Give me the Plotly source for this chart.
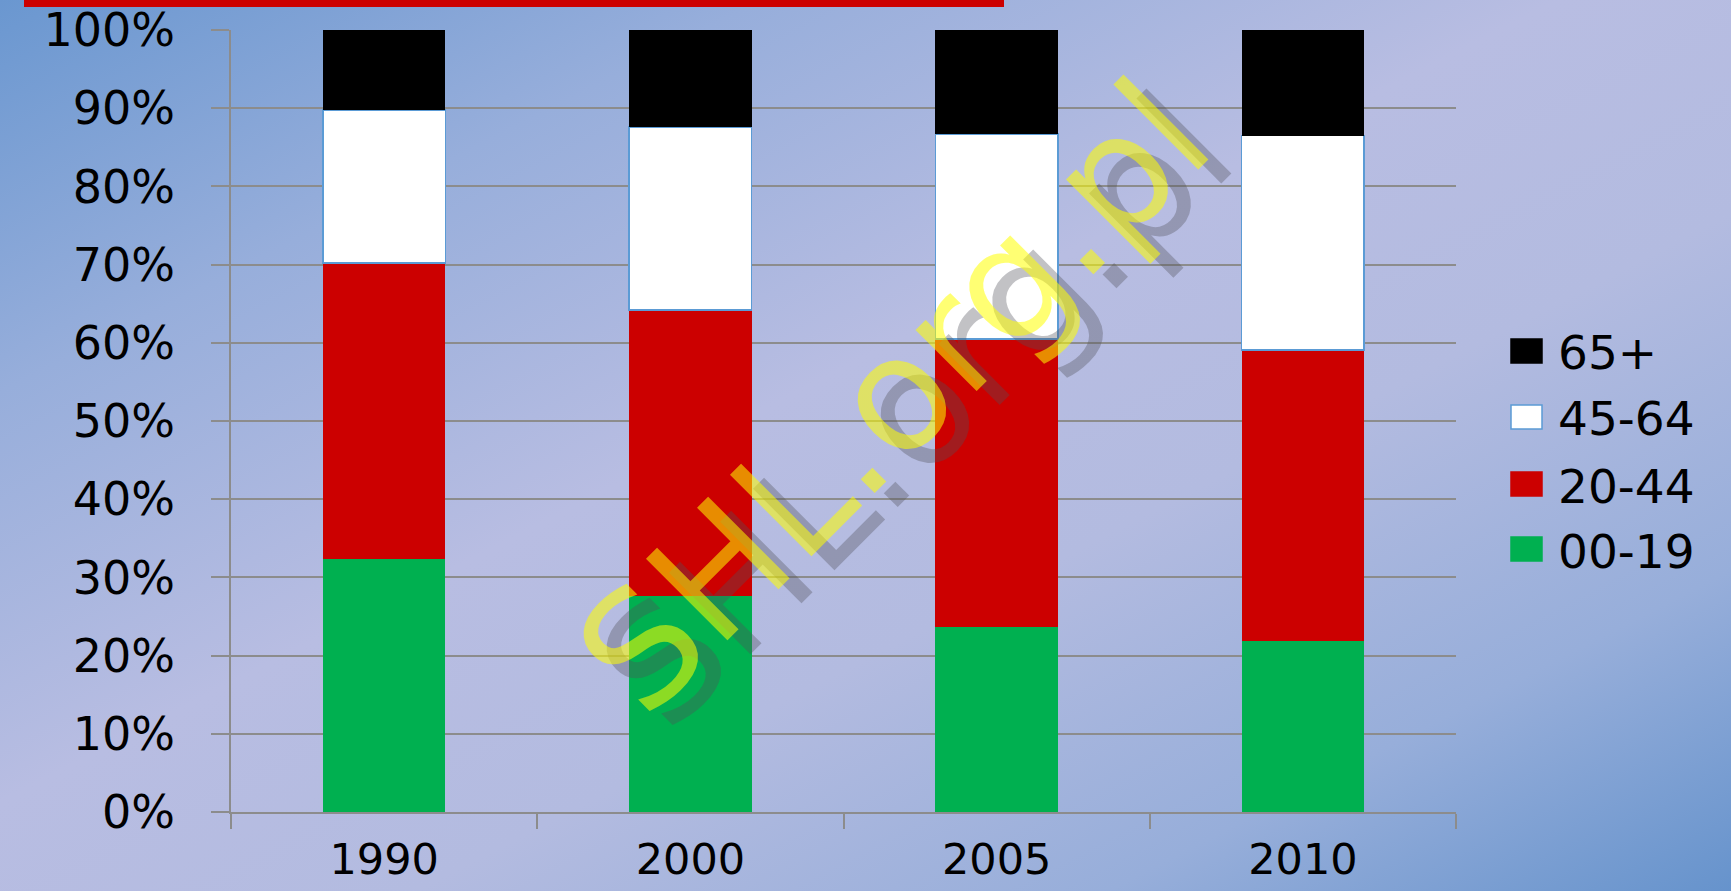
import base64
import plotly.graph_objects as go

# ---------------- data ----------------
years = ["1990", "2000", "2005", "2010"]
age_00_19 = [32.4, 27.6, 23.7, 21.9]
age_20_44 = [37.8, 36.6, 36.8, 37.2]
age_45_64 = [19.6, 23.4, 26.2, 27.4]
age_65_plus = [10.2, 12.4, 13.3, 13.5]
series_names = ["00-19", "20-44", "45-64", "65+"]
series_colors = ["#00B050", "#CC0000", "#FFFFFF", "#000000"]
y_tick_values = [0, 10, 20, 30, 40, 50, 60, 70, 80, 90, 100]
y_tick_labels = ["0%", "10%", "20%", "30%", "40%", "50%", "60%", "70%", "80%", "90%", "100%"]
watermark_text = "SHL.org.pl"

# ---------------- geometry ----------------
W, H = 1731, 891
PL, PR, PT, PB = 231, 1456, 30, 812
PW, PH = PR - PL, PB - PT


def px_x(x):
    return (x - PL) / PW


def px_y(y):
    return (PB - y) / PH


FONT = "DejaVu Sans"

fig = go.Figure()
series_values = [age_00_19, age_20_44, age_45_64, age_65_plus]
for name, vals, col in zip(series_names, series_values, series_colors):
    line = dict(color="#5B9BD5", width=1.5) if col == "#FFFFFF" else dict(width=0)
    fig.add_trace(go.Bar(
        x=years, y=vals, name=name,
        marker=dict(color=col, line=line),
        width=0.4, showlegend=False, hoverinfo="x+y+name",
    ))

# background gradient (full page)
svg = (
    f'<svg xmlns="http://www.w3.org/2000/svg" width="{W}" height="{H}" '
    f'viewBox="0 0 {W} {H}" preserveAspectRatio="none">'
    '<defs><linearGradient id="g" x1="0" y1="0" x2="1" y2="1">'
    '<stop offset="0" stop-color="#6A97D0"/>'
    '<stop offset="0.22" stop-color="#97AEDB"/>'
    '<stop offset="0.45" stop-color="#B8BDE2"/>'
    '<stop offset="0.62" stop-color="#B3BBE0"/>'
    '<stop offset="0.82" stop-color="#97AEDA"/>'
    '<stop offset="1" stop-color="#6693CC"/>'
    '</linearGradient></defs>'
    f'<rect x="0" y="0" width="{W}" height="{H}" fill="url(#g)"/></svg>'
)
src = "data:image/svg+xml;base64," + base64.b64encode(svg.encode()).decode()

images = [dict(
    source=src, xref="paper", yref="paper",
    x=px_x(0), y=px_y(0), sizex=W / PW, sizey=H / PH,
    xanchor="left", yanchor="top", sizing="stretch", layer="below",
)]

shapes = [
    # red title bar remnant at top
    dict(type="rect", xref="paper", yref="paper",
         x0=px_x(24), x1=px_x(1004), y0=px_y(7), y1=px_y(-2),
         fillcolor="#CC0000", line=dict(width=0), layer="above"),
]

annotations = []
# custom legend (reverse order: 65+ on top)
legend_rows_y = [549, 484, 417, 351]
for name, col, yc in zip(series_names, series_colors, legend_rows_y):
    shapes.append(dict(
        type="rect", xref="paper", yref="paper",
        x0=px_x(1511), x1=px_x(1542), y0=px_y(yc + 12), y1=px_y(yc - 12),
        fillcolor=col,
        line=dict(color="#5B9BD5" if col == "#FFFFFF" else col, width=1.5),
    ))
    annotations.append(dict(
        xref="paper", yref="paper", x=px_x(1556), y=px_y(yc + 2),
        xanchor="left", yanchor="middle", text=name, showarrow=False,
        font=dict(family=FONT, size=47, color="black"),
    ))

# watermark: shadow then yellow text
wm_cx, wm_cy = 893, 397
annotations.append(dict(
    xref="paper", yref="paper", x=px_x(wm_cx + 23), y=px_y(wm_cy + 14),
    xanchor="center", yanchor="middle", text=watermark_text, showarrow=False,
    textangle=-45, font=dict(family=FONT, size=158, color="rgba(80,80,90,0.35)"),
))
annotations.append(dict(
    xref="paper", yref="paper", x=px_x(wm_cx), y=px_y(wm_cy),
    xanchor="center", yanchor="middle", text=watermark_text, showarrow=False,
    textangle=-45, font=dict(family=FONT, size=158, color="rgba(255,255,0,0.55)"),
))

fig.update_layout(
    width=W, height=H,
    margin=dict(l=PL, r=W - PR, t=PT, b=H - PB, pad=0),
    barmode="stack",
    bargap=0.6,
    paper_bgcolor="#AAB6DE",
    plot_bgcolor="rgba(0,0,0,0)",
    images=images,
    shapes=shapes,
    annotations=annotations,
    showlegend=False,
    font=dict(family=FONT, color="black"),
)

fig.update_yaxes(
    range=[0, 100], tickvals=y_tick_values, ticktext=y_tick_labels,
    showgrid=True, gridcolor="#8C8C8C", gridwidth=1.5,
    zeroline=False, showline=True, linecolor="#8C8C8C", linewidth=1.5,
    ticks="outside", ticklen=18, tickcolor="#8C8C8C", tickwidth=1.5,
    tickfont=dict(family=FONT, size=46, color="black"),
    ticklabelstandoff=27, automargin=False,
)
fig.update_xaxes(
    showline=True, linecolor="#8C8C8C", linewidth=1.5,
    ticks="outside", tickson="boundaries", ticklen=15, tickcolor="#8C8C8C", tickwidth=1.5,
    tickfont=dict(family=FONT, size=43, color="black"),
    ticklabelstandoff=9, automargin=False,
)

fig.write_html("out.html")
